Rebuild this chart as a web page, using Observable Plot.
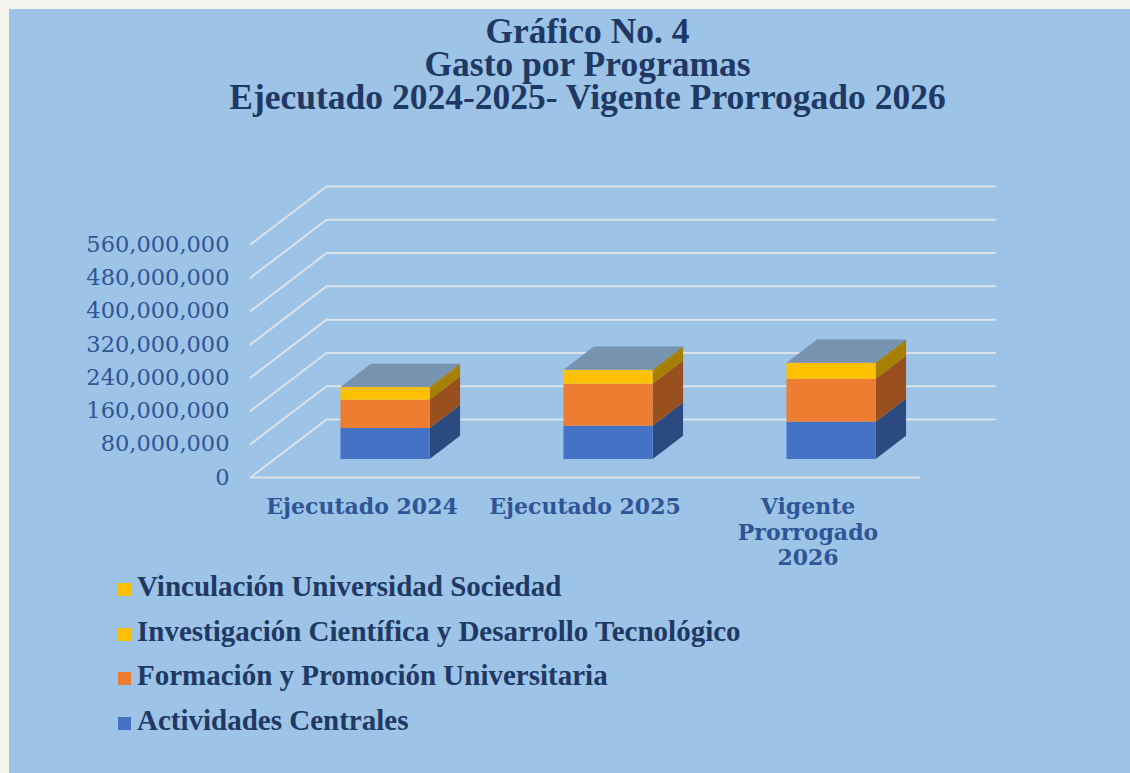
<!DOCTYPE html>
<html><head><meta charset="utf-8">
<script src="https://cdn.jsdelivr.net/npm/d3@7"></script>
<script src="https://cdn.jsdelivr.net/npm/@observablehq/plot@0.6"></script>
<style>
html,body{margin:0;padding:0;}
body{width:1130px;height:773px;overflow:hidden;background:#f7f5ef;position:relative;}
#panel{position:absolute;left:9px;top:9px;width:1121px;height:764px;background:#9DC3E6;}
#title{position:absolute;left:0;top:15px;width:1175px;text-align:center;font-family:"Liberation Serif",serif;font-weight:bold;font-size:35.5px;line-height:33px;color:#203864;}
#title div{height:33px;}
#chart{position:absolute;left:0;top:130px;}
#legend{position:absolute;left:118px;top:0;font-family:"Liberation Serif",serif;font-weight:bold;font-size:29px;line-height:26px;color:#203864;}
.row{position:absolute;left:0;white-space:nowrap;}
.sw{display:inline-block;width:13px;height:13px;margin-right:6px;}
</style></head>
<body>
<div id="panel"></div>
<div id="title"><div>Gráfico No. 4</div><div>Gasto por Programas</div><div>Ejecutado 2024-2025- Vigente Prorrogado 2026</div></div>
<div id="chart"></div>
<div id="legend"></div>
<script>
// ---- data ----
const categories = ["Ejecutado 2024", "Ejecutado 2025", "Vigente Prorrogado 2026"];
const categoryLabels = ["Ejecutado 2024", "Ejecutado 2025", "Vigente\nProrrogado\n2026"];
const series = ["Actividades Centrales", "Formación y Promoción Universitaria", "Investigación Científica y Desarrollo Tecnológico", "Vinculación Universidad Sociedad"];
const actividadesCentrales = [74.5e6, 80e6, 89.7e6];
const formacionPromocion = [68e6, 101e6, 103e6];
const investigacionCientifica = [25e6, 27e6, 31e6];
const vinculacionSociedad = [5.5e6, 6.6e6, 7.5e6];
const yTicks = [0, 80e6, 160e6, 240e6, 320e6, 400e6, 480e6, 560e6];

// ---- styles ----
const frontColors = ["#4472C4", "#ED7D31", "#FFC000", "#FFC000"];
const sideColors = ["#2B4A80", "#9A4F1E", "#A67E00", "#A67E00"];
const topColor = "#7893B0";
const gridColor = "#DCE2EA";

// ---- layout ----
const W = 1130, H = 460, mL = 250, mR = 211, mT = 114, mB = 113;
const nCat = categories.length;
const yMax = 560e6;
const pxX = nCat / (W - mL - mR);
const pxY = yMax / (H - mT - mB);
const DX = 76 * pxX, DY = 58 * pxY;     // full depth of the floor, in data units
const dF = 0.31, dB = 0.71;             // front/back depth fraction of bars
const half = 0.2;                       // half bar width (gap width 150%)

const values = [actividadesCentrales, formacionPromocion, investigacionCientifica, vinculacionSociedad];

// stacked segments
const segs = [];
const tops = [];
categories.forEach((c, i) => {
  let acc = 0;
  values.forEach((arr, s) => {
    segs.push({i, s, lo: acc, hi: acc + arr[i]});
    acc += arr[i];
  });
  tops.push({i, top: acc});
});

// gridlines (left wall diagonal + back wall horizontal)
const grid = [];
yTicks.forEach(v => {
  grid.push({g: v, x: 0, y: v}, {g: v, x: DX, y: v + DY}, {g: v, x: nCat + DX, y: v + DY});
});
const floorFront = [{x: 0, y: 0}, {x: nCat, y: 0}];

// side faces
const sidePts = [];
segs.forEach((d, k) => {
  [dF, dB].forEach(t => sidePts.push({id: k, fill: sideColors[d.s], x: d.i + 0.5 + half + t * DX, y1: d.lo + t * DY, y2: d.hi + t * DY}));
});
// top faces
const topPts = [];
tops.forEach(d => {
  [dF, dB].forEach(t => topPts.push({id: d.i, x1: d.i + 0.5 - half + t * DX, x2: d.i + 0.5 + half + t * DX, y: d.top + t * DY}));
});
// shadows on floor
const shadowPts = [];
tops.forEach(d => {
  [0.27, 0.74].forEach(t => shadowPts.push({id: d.i, x1: d.i + 0.5 - half - 14 * pxX + t * DX, x2: d.i + 0.5 + half + 10 * pxX + t * DX, y: t * DY - 3 * pxY}));
});

const chart = Plot.plot({
  width: W, height: H,
  marginLeft: mL, marginRight: mR, marginTop: mT, marginBottom: mB,
  style: {background: "transparent", overflow: "visible"},
  x: {type: "linear", domain: [0, nCat], axis: null},
  y: {domain: [0, yMax], axis: null},
  color: {type: "identity"},
  marks: [
    Plot.line(grid, {x: "x", y: "y", z: "g", stroke: gridColor, strokeWidth: 2}),
    Plot.line(floorFront, {x: "x", y: "y", stroke: gridColor, strokeWidth: 2}),
    Plot.area(shadowPts, {x1: "x1", x2: "x2", y1: "y", z: "id", fill: "#2A3F5C", fillOpacity: 0.6, ariaLabel: "shadow"}),
    Plot.area(sidePts, {x1: "x", y1: "y1", y2: "y2", z: "id", fill: "fill"}),
    Plot.rect(segs, {
      x1: d => d.i + 0.5 - half + dF * DX, x2: d => d.i + 0.5 + half + dF * DX,
      y1: d => d.lo + dF * DY, y2: d => d.hi + dF * DY,
      fill: d => frontColors[d.s], insetTop: 0, insetBottom: 0
    }),
    Plot.area(topPts, {x1: "x1", x2: "x2", y1: "y", z: "id", fill: topColor}),
    Plot.text(yTicks, {
      frameAnchor: "left", y: d => d, text: d => d3.format(",")(d),
      textAnchor: "end", dx: -21, fontSize: 22.5, fontFamily: "DejaVu Serif", fill: "#2F5597"
    }),
    Plot.text(categoryLabels, {
      x: (d, i) => i + 0.5, y: () => 0, text: d => d, lineAnchor: "top", dy: 19,
      fontSize: 22, fontWeight: "bold", fontFamily: "DejaVu Serif", fill: "#2F5597", lineHeight: 1.15
    })
  ]
});
document.getElementById("chart").appendChild(chart);
const sh = chart.querySelector('[aria-label="shadow"]');
if (sh) sh.style.filter = "blur(3px)";

// legend
const legend = document.getElementById("legend");
const legendOrder = [3, 2, 1, 0];
legendOrder.forEach((s, k) => {
  const row = document.createElement("div");
  row.className = "row";
  row.style.top = (573 + k * 44.67) + "px";
  const sw = document.createElement("span");
  sw.className = "sw";
  sw.style.background = frontColors[s];
  row.appendChild(sw);
  row.appendChild(document.createTextNode(series[s]));
  legend.appendChild(row);
});
</script>
</body></html>
